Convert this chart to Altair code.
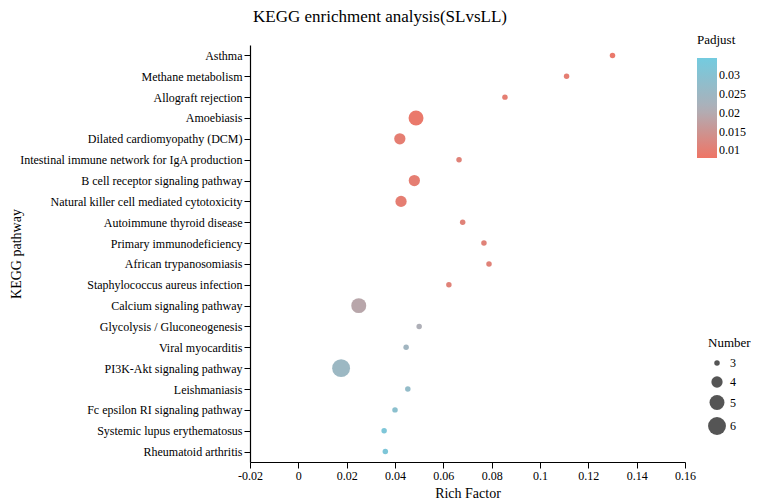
import altair as alt
import pandas as pd

pathways = [
    "Asthma", "Methane metabolism", "Allograft rejection", "Amoebiasis",
    "Dilated cardiomyopathy (DCM)", "Intestinal immune network for IgA production",
    "B cell receptor signaling pathway", "Natural killer cell mediated cytotoxicity",
    "Autoimmune thyroid disease", "Primary immunodeficiency", "African trypanosomiasis",
    "Staphylococcus aureus infection", "Calcium signaling pathway",
    "Glycolysis / Gluconeogenesis", "Viral myocarditis", "PI3K-Akt signaling pathway",
    "Leishmaniasis", "Fc epsilon RI signaling pathway", "Systemic lupus erythematosus",
    "Rheumatoid arthritis",
]
rich_factor = [0.130, 0.111, 0.0855, 0.0487, 0.042, 0.0665, 0.048, 0.0425, 0.068, 0.0768,
               0.0789, 0.0623, 0.025, 0.050, 0.0446, 0.0177, 0.0453, 0.040, 0.0355, 0.036]
padjust = [0.009, 0.010, 0.010, 0.009, 0.010, 0.011, 0.010, 0.010, 0.011, 0.011,
           0.011, 0.011, 0.019, 0.021, 0.024, 0.025, 0.027, 0.029, 0.032, 0.032]
number = [3, 3, 3, 5, 4, 3, 4, 4, 3, 3, 3, 3, 5, 3, 3, 6, 3, 3, 3, 3]
x_ticks = [-0.02, 0, 0.02, 0.04, 0.06, 0.08, 0.1, 0.12, 0.14, 0.16]
padj_ticks = [0.01, 0.015, 0.02, 0.025, 0.03]
number_ticks = [3, 4, 5, 6]

df = pd.DataFrame({"Pathway": pathways, "RichFactor": rich_factor,
                   "Padjust": padjust, "Number": number})

FONT = "Liberation Serif"

axis_style = dict(labelFont=FONT, titleFont=FONT, labelFontSize=12, titleFontSize=14,
                  titleFontWeight="normal", labelColor="#000", titleColor="#000",
                  domainColor="#000", tickColor="#000", domainWidth=1.2, tickSize=6,
                  grid=False)
legend_style = dict(labelFont=FONT, titleFont=FONT, labelFontSize=12, titleFontSize=13,
                    titleFontWeight="normal", labelColor="#000", titleColor="#000")

chart = alt.Chart(df).mark_circle(opacity=0.85).encode(
    x=alt.X("RichFactor:Q", title="Rich Factor",
            scale=alt.Scale(domain=[-0.02, 0.16], nice=False, zero=False),
            axis=alt.Axis(values=x_ticks, labelFlush=False,
                          labelExpr="datum.value == 0 ? '0' : toString(round(datum.value*100)/100)",
                          titlePadding=5, **axis_style)),
    y=alt.Y("Pathway:N", title="KEGG pathway", sort=pathways,
            scale=alt.Scale(paddingInner=1, paddingOuter=0.5),
            axis=alt.Axis(titleX=-227, labelLimit=400, **axis_style)),
    color=alt.Color("Padjust:Q", title="Padjust",
                    scale=alt.Scale(domain=[0.008, 0.021, 0.0345],
                                    range=["#ec5c4a", "#a0a1aa", "#5ac2da"],
                                    interpolate="rgb", nice=False),
                    legend=alt.Legend(orient="none", legendX=447, legendY=-11,
                                      gradientLength=100, gradientThickness=20,
                                      values=padj_ticks,
                                      labelExpr="toString(datum.value)",
                                      direction="vertical", titlePadding=11,
                                      gradientStrokeWidth=0, **legend_style)),
    size=alt.Size("Number:Q", title="Number",
                  scale=alt.Scale(domain=[3, 6], range=[30, 320]),
                  legend=alt.Legend(orient="none", legendX=458, legendY=292,
                                    values=number_ticks,
                                    labelExpr="toString(datum.value)",
                                    symbolFillColor="#555555",
                                    symbolStrokeWidth=0, symbolOpacity=1,
                                    rowPadding=7, titlePadding=7, **legend_style)),
).properties(
    width=435, height=417, background="white", padding=0,
    title=alt.Title("KEGG enrichment analysis(SLvsLL)", fontSize=17, font=FONT,
                    fontWeight="normal", offset=8, color="#000", frame="bounds"),
).configure_view(stroke=None)

chart.save("out.html", embed_options={"renderer": "svg", "actions": False})
